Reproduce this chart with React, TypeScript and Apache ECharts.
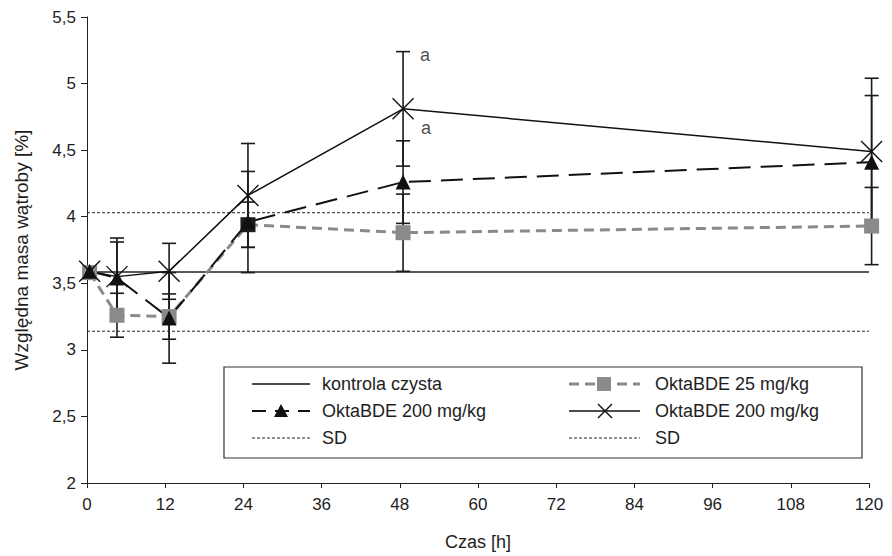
import React, { useEffect, useRef } from "react";
import * as echarts from "echarts";

// time points [h]
const timeH = [0.4, 4.6, 12.6, 24.7, 48.5, 120.4];

// control group (kontrola czysta) mean and SD band
const controlMean = 3.585;
const controlSD = 0.445;
const controlRange = [0, 120];

// OktaBDE 25 mg/kg (grey squares)
const okta25 = [3.58, 3.26, 3.25, 3.94, 3.88, 3.93];
const okta25Err = [0, 0.165, 0.17, 0.17, 0.29, 0.29];

// OktaBDE 200 mg/kg (black triangles, dashed)
const okta200Tri = [3.59, 3.54, 3.24, 3.96, 4.26, 4.41];
const okta200TriErr = [0, 0.3, 0.34, 0.38, 0.31, 0.5];

// OktaBDE 200 mg/kg (crosses, solid)
const okta200X = [3.59, 3.55, 3.59, 4.16, 4.81, 4.49];
const okta200XErr = [0, 0.26, 0.21, 0.39, 0.43, 0.55];

// annotations
const annotX = [48.5, 48.5];
const annotY = [5.24, 4.81];
const annotText = ["a", "a"];

const yTicks = { min: 2, max: 5.5, interval: 0.5 };
const xTicks = { min: 0, max: 120, interval: 12 };

const FONT = "'Liberation Sans', Arial, Helvetica, sans-serif";
const TXT = "#1e1e1e";

function errData(vals: number[], errs: number[]) {
  return timeH
    .map((t, i) => [t, vals[i], errs[i]])
    .filter((d) => d[2] > 0);
}

function errorSeries(vals: number[], errs: number[]) {
  return {
    type: "custom",
    clip: false,
    z: 1,
    data: errData(vals, errs),
    renderItem: (params: any, api: any) => {
      const x = api.value(0);
      const y = api.value(1);
      const e = api.value(2);
      const top = api.coord([x, y + e]);
      const bot = api.coord([x, y - e]);
      const hw = 7;
      const st = { stroke: "#1a1a1a", lineWidth: 1.6 };
      return {
        type: "group",
        children: [
          { type: "line", shape: { x1: top[0], y1: top[1], x2: bot[0], y2: bot[1] }, style: st },
          { type: "line", shape: { x1: top[0] - hw, y1: top[1], x2: top[0] + hw, y2: top[1] }, style: st },
          { type: "line", shape: { x1: bot[0] - hw, y1: bot[1], x2: bot[0] + hw, y2: bot[1] }, style: st },
        ],
      };
    },
  };
}

const XSYM = "path://M0 0L10 10M10 0L0 10";

export default function App() {
  const ref = useRef<HTMLDivElement>(null);
  useEffect(() => {
    document.body.style.margin = "0";
    if (!ref.current) return;
    const chart = echarts.init(ref.current, undefined, { renderer: "svg" });

    const L1 = 252, L2 = 569, T1 = 322, T2 = 655;
    const rows = [384, 411, 438];
    const legendText = (x: number, y: number, t: string) => ({
      type: "text",
      x,
      y,
      style: { text: t, fill: TXT, font: `18px ${FONT}`, verticalAlign: "middle" },
    });
    const legendLine = (x1: number, x2: number, y: number, stroke: string, lw: number, dash?: number[]) => ({
      type: "line",
      shape: { x1, y1: y, x2, y2: y },
      style: { stroke, lineWidth: lw, lineDash: dash },
    });

    const option: any = {
      animation: false,
      grid: { left: 87, right: 23, top: 17, bottom: 69 },
      xAxis: {
        type: "value",
        min: xTicks.min,
        max: xTicks.max,
        interval: xTicks.interval,
        axisLine: { lineStyle: { color: "#222", width: 1 } },
        axisTick: { length: 5, lineStyle: { color: "#222" } },
        axisLabel: { color: TXT, fontSize: 17, fontFamily: FONT, margin: 13 },
        splitLine: { show: false },
        name: "Czas [h]",
        nameLocation: "middle",
        nameGap: 50,
        nameTextStyle: { color: TXT, fontSize: 18, fontFamily: FONT },
      },
      yAxis: {
        type: "value",
        min: yTicks.min,
        max: yTicks.max,
        interval: yTicks.interval,
        axisLine: { show: true, lineStyle: { color: "#222", width: 1 } },
        axisTick: { show: true, length: 6, lineStyle: { color: "#222" } },
        axisLabel: {
          color: TXT,
          fontSize: 17,
          fontFamily: FONT,
          margin: 11,
          formatter: (v: number) => String(v).replace(".", ","),
        },
        splitLine: { show: false },
        name: "Względna masa wątroby [%]",
        nameLocation: "middle",
        nameGap: 56,
        nameTextStyle: { color: TXT, fontSize: 19, fontFamily: FONT },
      },
      series: [
        {
          type: "line",
          name: "SD+",
          data: controlRange.map((x) => [x, controlMean + controlSD]),
          symbol: "none",
          lineStyle: { color: "#222", width: 1, type: [3, 2] },
        },
        {
          type: "line",
          name: "SD-",
          data: controlRange.map((x) => [x, controlMean - controlSD]),
          symbol: "none",
          lineStyle: { color: "#222", width: 1, type: [3, 2] },
        },
        {
          type: "line",
          name: "kontrola czysta",
          data: controlRange.map((x) => [x, controlMean]),
          symbol: "none",
          lineStyle: { color: "#222", width: 1.5 },
        },
        errorSeries(okta25, okta25Err),
        errorSeries(okta200Tri, okta200TriErr),
        errorSeries(okta200X, okta200XErr),
        {
          type: "line",
          name: "OktaBDE 25 mg/kg",
          clip: false,
          data: timeH.map((t, i) =>
            i === 3
              ? { value: [t, okta25[i]], itemStyle: { color: "#1c1c1c" } }
              : [t, okta25[i]]
          ),
          symbol: "rect",
          symbolSize: 15,
          itemStyle: { color: "#8a8a8a" },
          lineStyle: { color: "#8a8a8a", width: 3, type: [10, 6] },
        },
        {
          type: "line",
          name: "OktaBDE 200 mg/kg",
          clip: false,
          data: timeH.map((t, i) => [t, okta200Tri[i]]),
          symbol: "triangle",
          symbolSize: 15,
          itemStyle: { color: "#111" },
          lineStyle: { color: "#111", width: 2, type: [22, 10] },
        },
        {
          type: "line",
          name: "OktaBDE 200 mg/kg ",
          clip: false,
          data: timeH.map((t, i) => [t, okta200X[i]]),
          symbol: XSYM,
          symbolSize: 21,
          itemStyle: { color: "none", borderColor: "#111", borderWidth: 1.4 },
          lineStyle: { color: "#111", width: 1.5 },
        },
        {
          type: "scatter",
          symbolSize: 0,
          clip: false,
          data: annotX.map((x, i) => ({
            value: [x, annotY[i]],
            label: {
              show: true,
              formatter: annotText[i],
              position: "inside",
              offset: i === 0 ? [22, 3] : [23, 19],
              color: TXT,
              fontSize: 18,
              fontFamily: FONT,
            },
          })),
        },
      ],
      graphic: [
        {
          type: "group",
          children: [
            {
              type: "rect",
              shape: { x: 224, y: 367, width: 638, height: 91 },
              style: { fill: "#fff", stroke: "#333", lineWidth: 1.2 },
            },
            legendLine(L1, 310, rows[0], "#111", 1.5),
            legendText(T1, rows[0], "kontrola czysta"),
            legendLine(L1, 310, rows[1], "#111", 2, [14, 9]),
            { type: "polygon", shape: { points: [[281, rows[1] - 7], [288, rows[1] + 6], [274, rows[1] + 6]] }, style: { fill: "#111" } },
            legendText(T1, rows[1], "OktaBDE 200 mg/kg"),
            legendLine(L1, 310, rows[2], "#222", 1, [3, 2]),
            legendText(T1, rows[2], "SD"),
            legendLine(L2, 640, rows[0], "#8a8a8a", 3, [10, 6]),
            { type: "rect", shape: { x: 597, y: rows[0] - 7, width: 14, height: 14 }, style: { fill: "#8a8a8a" } },
            legendText(T2, rows[0], "OktaBDE 25 mg/kg"),
            legendLine(L2, 640, rows[1], "#111", 1.5),
            { type: "line", shape: { x1: 598, y1: rows[1] - 7, x2: 612, y2: rows[1] + 7 }, style: { stroke: "#111", lineWidth: 1.4 } },
            { type: "line", shape: { x1: 612, y1: rows[1] - 7, x2: 598, y2: rows[1] + 7 }, style: { stroke: "#111", lineWidth: 1.4 } },
            legendText(T2, rows[1], "OktaBDE 200 mg/kg"),
            legendLine(L2, 640, rows[2], "#222", 1, [3, 2]),
            legendText(T2, rows[2], "SD"),
          ],
        },
      ],
    };
    chart.setOption(option);
    return () => chart.dispose();
  }, []);
  return <div ref={ref} style={{ width: 892, height: 556, background: "#fff" }} />;
}
